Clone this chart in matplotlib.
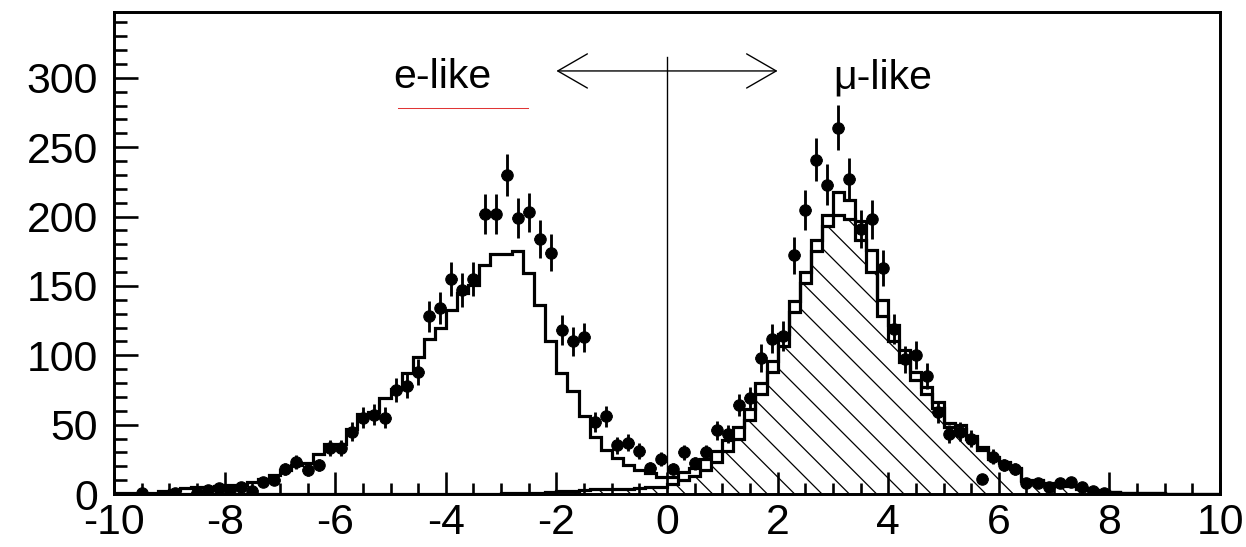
import numpy as np
import matplotlib
matplotlib.use("Agg")
import matplotlib.pyplot as plt
from matplotlib.ticker import MultipleLocator

DPI = 82
plt.rcParams["font.family"] = ["Liberation Sans", "DejaVu Sans"]
plt.rcParams["axes.unicode_minus"] = False
plt.rcParams["hatch.linewidth"] = 1.1

# binning of the histograms: 100 bins between -10 and 10
X_MIN, X_MAX, N_BINS = -10.0, 10.0, 100

# total MC expectation (open step histogram)
mc_total = [
    0.5, 0.5, 1, 1, 2, 3, 4, 5, 5, 6,
    6.5, 6.5, 9, 10.5, 14, 17.5, 21, 22, 29, 36,
    36, 47, 58, 59, 69, 76, 87, 98.5, 111.5, 119.5,
    133, 145, 151, 165, 173, 173, 175, 159, 136, 110,
    87.5, 74, 56.5, 41, 32, 26, 21, 17, 15, 12,
    12.5, 16, 19, 25, 31, 39, 48, 61, 80, 96,
    115, 139, 160, 183, 201, 218, 212, 197, 176, 140,
    122, 104, 88, 77, 66, 51, 50, 42, 34, 27,
    23, 19, 10, 10, 8, 6.5, 6.5, 4, 3, 2,
    1.5, 1, 1, 0.5, 0.5, 0, 0, 0, 0, 0,
]

# mu-like component of the MC (hatched)
mc_mu = [
    0, 0, 0, 0, 0, 0, 0, 0, 0, 0,
    0, 0, 0, 0, 0, 0, 0, 0, 0, 0,
    0, 0, 0, 0, 0, 0, 0, 0, 0, 0,
    0, 0, 0, 0, 0, 0.5, 0.5, 1, 1, 1.5,
    2.5, 2.5, 3, 3.5, 3.5, 3.5, 3.5, 4, 5, 5,
    7.5, 10, 13, 17, 23, 31, 40, 53, 72, 88,
    107, 131, 152, 175, 193, 201, 198, 183, 160, 128,
    110, 95, 82, 72, 62, 48, 47, 40, 32, 25.5,
    22, 18, 9.5, 9.5, 7.5, 6, 6, 3.8, 2.8, 2,
    1.5, 1, 1, 0.5, 0.5, 0, 0, 0, 0, 0,
]

# observed events per bin
data_counts = [
    0, 0, 1, 0, 0, 1, 0, 1, 3, 4,
    3, 5, 2, 9, 10, 18, 23, 17, 21, 33,
    33, 45, 55, 57, 55, 75, 78, 88, 128, 134,
    155, 147, 155, 202, 202, 230, 199, 203, 184, 174,
    118, 110, 113, 52, 56, 35, 37, 31, 19, 25,
    18, 30, 22, 30, 46, 43, 64, 69, 98, 112,
    114, 172, 205, 241, 223, 264, 227, 191, 198, 163,
    119, 97, 100, 85, 59, 43, 45, 40, 11, 27,
    21, 18, 8, 8, 5, 8, 9, 5, 2, 1,
    0, 0, 0, 0, 0, 0, 0, 0, 0, 0,
]

Y_MAX = 347.5
CUT_LINE_TOP = 315
ARROW_Y, ARROW_X = 305, 2.0


def main():
    edges = np.linspace(X_MIN, X_MAX, N_BINS + 1)
    centers = 0.5 * (edges[1:] + edges[:-1])
    half_w = 0.5 * (edges[1] - edges[0])
    total = np.array(mc_total, dtype=float)
    mu = np.array(mc_mu, dtype=float)
    dat = np.array(data_counts, dtype=float)

    fig = plt.figure(figsize=(1246 / DPI, 547 / DPI), dpi=DPI)
    ax = fig.add_axes([114 / 1246, 53 / 547, 1106 / 1246, 482 / 547])

    # hatched mu-like component with its own outline
    ax.stairs(mu, edges, fill=True, hatch="\\", facecolor="none",
              edgecolor="black", linewidth=0)
    ax.stairs(mu, edges, color="black", linewidth=2.8)
    # total MC
    ax.stairs(total, edges, color="black", linewidth=2.8)

    # data points, empty bins are not drawn
    m = dat > 0
    ax.errorbar(centers[m], dat[m], yerr=np.sqrt(dat[m]), xerr=half_w,
                fmt="o", color="black", ms=10, elinewidth=2.5, capsize=0)

    # cut at 0 and the arrow
    ax.plot([0, 0], [0, CUT_LINE_TOP], color="black", lw=1.2)
    ax.annotate("", xy=(ARROW_X, ARROW_Y), xytext=(-ARROW_X, ARROW_Y),
                arrowprops=dict(arrowstyle="<->,head_length=2.6,head_width=1.5",
                                color="black", lw=1.2, mutation_scale=10,
                                shrinkA=0, shrinkB=0))

    ax.text(-4.95, 292.7, "e-like", fontsize=36, va="baseline", ha="left")
    ax.plot([-4.87, -2.52], [278, 278], color="#e03535", lw=0.9)
    ax.text(3.0, 292.7, "\u03bc-like", fontsize=36, va="baseline", ha="left")

    ax.set_xlim(X_MIN, X_MAX)
    ax.set_ylim(0, Y_MAX)
    ax.xaxis.set_major_locator(MultipleLocator(2))
    ax.xaxis.set_minor_locator(MultipleLocator(0.5))
    ax.yaxis.set_major_locator(MultipleLocator(50))
    ax.yaxis.set_minor_locator(MultipleLocator(10))
    ax.tick_params(which="both", direction="in", top=False, right=False,
                   width=2.3, labelsize=37.5)
    ax.tick_params(axis="x", which="major", length=19, pad=8)
    ax.tick_params(axis="x", which="minor", length=10)
    ax.tick_params(axis="y", which="major", length=21, pad=14)
    ax.tick_params(axis="y", which="minor", length=11)
    for sp in ax.spines.values():
        sp.set_linewidth(2.6)

    fig.savefig("out.png", dpi=DPI)
    plt.close(fig)


if __name__ == "__main__":
    main()
